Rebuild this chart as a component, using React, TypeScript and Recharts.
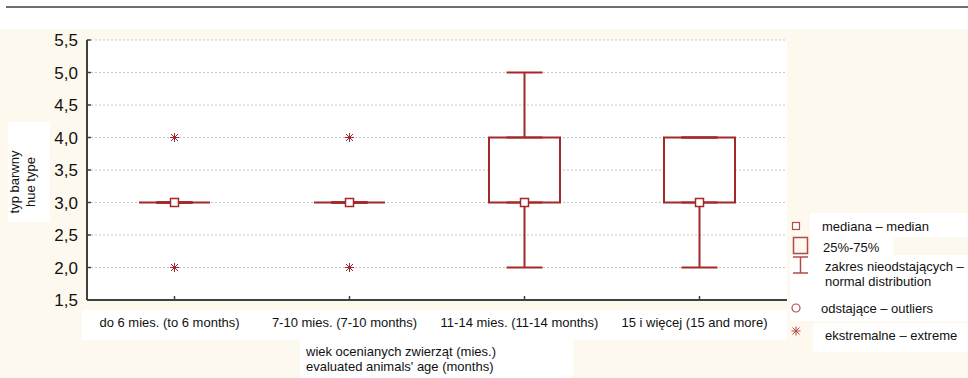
import { ComposedChart, Bar, Scatter, ErrorBar, XAxis, YAxis, CartesianGrid } from 'recharts';

const categories = [
  'do 6 mies. (to 6 months)',
  '7-10 mies. (7-10 months)',
  '11-14 mies. (11-14 months)',
  '15 i więcej (15 and more)',
];
const medians = [3, 3, 3, 3];
const lowerQuartiles = [3, 3, 3, 3];
const upperQuartiles = [3, 3, 4, 4];
const whiskerMin = [3, 3, 2, 2];
const whiskerMax = [3, 3, 5, 4];
const extremeHigh = [4, 4, null, null];
const extremeLow = [2, 2, null, null];
const yTicks = [1.5, 2, 2.5, 3, 3.5, 4, 4.5, 5, 5.5];

const RED = '#a3282b';
const LEGEND_RED = '#b34a4a';
const FRAME = '#404040';
const CREAM = '#fef9ee';
const FONT = '"Liberation Sans", Arial, sans-serif';

const chartData = categories.map((cat, i) => ({
  cat,
  median: medians[i],
  q1: lowerQuartiles[i],
  q3: upperQuartiles[i],
  box: [lowerQuartiles[i], upperQuartiles[i]],
  lowWhisker: [lowerQuartiles[i] - whiskerMin[i], 0],
  highWhisker: [0, whiskerMax[i] - upperQuartiles[i]],
  extHi: extremeHigh[i],
  extLo: extremeLow[i],
}));

const BoxShape = (props: any) => {
  const { x, y, width, height } = props;
  if (x == null || y == null) return <g />;
  const d = `M${x},${y}h${width}v${height}h${-width}Z`;
  return <path d={d} fill="#fff" stroke={RED} strokeWidth={2} />;
};

const MedianShape = (props: any) => {
  const { cx, cy } = props;
  if (cx == null || cy == null) return <g />;
  return <rect x={cx - 4} y={cy - 4} width={8} height={8} fill="#fff" stroke={RED} strokeWidth={1.5} />;
};

const Star = ({ cx, cy, color }: { cx: number; cy: number; color: string }) => (
  <g stroke={color} strokeWidth={1}>
    <line x1={cx - 4.5} y1={cy} x2={cx + 4.5} y2={cy} />
    <line x1={cx} y1={cy - 4.5} x2={cx} y2={cy + 4.5} />
    <line x1={cx - 3.5} y1={cy - 3.5} x2={cx + 3.5} y2={cy + 3.5} />
    <line x1={cx - 3.5} y1={cy + 3.5} x2={cx + 3.5} y2={cy - 3.5} />
  </g>
);

const makeExtremeShape = (key: 'extHi' | 'extLo') => (props: any) => {
  const { cx, cy, payload } = props;
  if (!payload || payload[key] == null || !isFinite(cx) || !isFinite(cy)) return <g />;
  return <Star cx={cx} cy={cy} color={RED} />;
};

const HiddenPoint = () => <g />;

const fmt = (v: number) => v.toFixed(1).replace('.', ',');

const legendText: React.CSSProperties = {
  position: 'absolute',
  fontSize: 13,
  color: '#111',
  lineHeight: '15px',
  whiteSpace: 'nowrap',
};

export default function App() {
  return (
    <div
      style={{
        position: 'absolute',
        left: 0,
        top: 0,
        width: 968,
        height: 378,
        background: '#fff',
        fontFamily: FONT,
        overflow: 'hidden',
      }}
    >
      <div style={{ position: 'absolute', left: 6, right: 0, top: 6, height: 2, background: '#6e6e6e' }} />
      <div style={{ position: 'absolute', left: 0, right: 0, top: 29, bottom: 0, background: CREAM }} />
      {/* white patches behind labels */}
      <div style={{ position: 'absolute', left: 8, top: 122, width: 42, height: 100, background: '#fff' }} />
      <div style={{ position: 'absolute', left: 82, top: 310, width: 705, height: 30, background: '#fff' }} />
      <div style={{ position: 'absolute', left: 300, top: 340, width: 273, height: 38, background: '#fff' }} />
      <div style={{ position: 'absolute', left: 810, top: 213, width: 158, height: 24, background: '#fff' }} />
      <div style={{ position: 'absolute', left: 810, top: 237, width: 83, height: 18, background: '#fff' }} />
      <div style={{ position: 'absolute', left: 790, top: 255, width: 178, height: 38, background: '#fff' }} />
      <div style={{ position: 'absolute', left: 790, top: 293, width: 178, height: 28, background: '#fff' }} />
      <div style={{ position: 'absolute', left: 813, top: 323, width: 155, height: 29, background: '#fff' }} />

      <div style={{ position: 'absolute', left: 0, top: 0 }}>
        <ComposedChart
          width={968}
          height={378}
          data={chartData}
          margin={{ top: 40, right: 181, bottom: 0, left: 0 }}
        >
          <CartesianGrid vertical={false} stroke="#c8c8c8" strokeDasharray="2 2" fill="#fff" />
          <XAxis
            dataKey="cat"
            type="category"
            height={78}
            axisLine={{ stroke: FRAME, strokeWidth: 2 }}
            tickLine={{ stroke: FRAME, strokeWidth: 1.5 }}
            tickSize={-4}
            tickMargin={22}
            interval={0}
            tick={{ fontSize: 13, fill: '#111', fontFamily: FONT, dx: -5 }}
          />
          <XAxis
            xAxisId="top"
            dataKey="cat"
            type="category"
            orientation="top"
            height={0}
            axisLine={{ stroke: FRAME, strokeWidth: 2 }}
            tickLine={{ stroke: FRAME, strokeWidth: 1.5 }}
            tickSize={-4}
            tick={false}
          />
          <YAxis
            type="number"
            domain={[1.5, 5.5]}
            ticks={yTicks}
            width={87}
            tickFormatter={fmt}
            axisLine={{ stroke: FRAME, strokeWidth: 2 }}
            tickLine={{ stroke: FRAME, strokeWidth: 1.5 }}
            tickSize={-4}
            tickMargin={13}
            interval={0}
            tick={{ fontSize: 17, fill: '#111', fontFamily: FONT }}
          />
          <YAxis
            yAxisId="right"
            orientation="right"
            type="number"
            domain={[1.5, 5.5]}
            ticks={yTicks}
            width={0}
            axisLine={{ stroke: FRAME, strokeWidth: 2 }}
            tickLine={{ stroke: FRAME, strokeWidth: 1.5 }}
            tickSize={-4}
            tick={false}
          />
          <Scatter dataKey="q1" shape={HiddenPoint} isAnimationActive={false}>
            <ErrorBar dataKey="lowWhisker" direction="y" width={18} stroke={RED} strokeWidth={2} isAnimationActive={false} />
          </Scatter>
          <Scatter dataKey="q3" shape={HiddenPoint} isAnimationActive={false}>
            <ErrorBar dataKey="highWhisker" direction="y" width={18} stroke={RED} strokeWidth={2} isAnimationActive={false} />
          </Scatter>
          <Bar dataKey="box" barSize={71} shape={BoxShape} isAnimationActive={false} />
          <Scatter dataKey="median" shape={MedianShape} isAnimationActive={false} />
          <Scatter dataKey="extHi" shape={makeExtremeShape('extHi')} isAnimationActive={false} />
          <Scatter dataKey="extLo" shape={makeExtremeShape('extLo')} isAnimationActive={false} />
        </ComposedChart>
      </div>

      {/* y axis title */}
      <div
        style={{
          position: 'absolute',
          left: 23 - 50,
          top: 182 - 16,
          width: 100,
          height: 32,
          transform: 'rotate(-90deg)',
          textAlign: 'center',
          fontSize: 13,
          lineHeight: '16px',
          color: '#111',
        }}
      >
        typ barwny
        <br />
        hue type
      </div>

      {/* x axis title */}
      <div style={{ ...legendText, left: 306, top: 344 }}>
        wiek ocenianych zwierząt (mies.)
        <br />
        evaluated animals' age (months)
      </div>

      {/* legend */}
      <svg style={{ position: 'absolute', left: 785, top: 215 }} width={30} height={130}>
        <rect x={7.5} y={7.5} width={7} height={7} fill="#fff" stroke={LEGEND_RED} strokeWidth={1.2} />
        <rect x={8.5} y={22.5} width={14} height={16} fill="none" stroke={LEGEND_RED} strokeWidth={1.5} />
        <g stroke={LEGEND_RED} strokeWidth={1.5}>
          <line x1={8} y1={42} x2={23} y2={42} />
          <line x1={15.5} y1={42} x2={15.5} y2={58} />
          <line x1={8} y1={58} x2={23} y2={58} />
        </g>
        <circle cx={11} cy={93} r={4} fill="none" stroke={LEGEND_RED} strokeWidth={1.2} />
        <Star cx={11} cy={116} color={LEGEND_RED} />
      </svg>
      <div style={{ ...legendText, left: 822, top: 219 }}>mediana – median</div>
      <div style={{ ...legendText, left: 823, top: 240 }}>25%-75%</div>
      <div style={{ ...legendText, left: 825, top: 259 }}>
        zakres nieodstających –
        <br />
        normal distribution
      </div>
      <div style={{ ...legendText, left: 821, top: 301 }}>odstające – outliers</div>
      <div style={{ ...legendText, left: 825, top: 328 }}>ekstremalne – extreme</div>
    </div>
  );
}
